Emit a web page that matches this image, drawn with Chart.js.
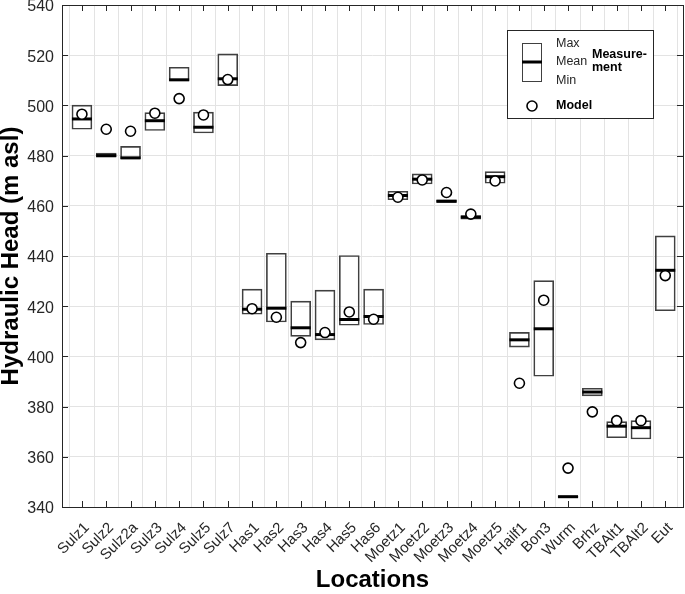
<!DOCTYPE html>
<html>
<head>
<meta charset="utf-8">
<script src="https://cdn.jsdelivr.net/npm/chart.js@4.4.1/dist/chart.umd.min.js"></script>
<style>
  html, body { margin: 0; padding: 0; background: #fff; }
  #wrap { width: 685px; height: 594px; position: relative; }
</style>
</head>
<body>
<div id="wrap"><canvas id="headChart"></canvas></div>
<script>
// DATA
const categories = ['Sulz1', 'Sulz2', 'Sulz2a', 'Sulz3', 'Sulz4', 'Sulz5', 'Sulz7',
    'Has1', 'Has2', 'Has3', 'Has4', 'Has5', 'Has6',
    'Moetz1', 'Moetz2', 'Moetz3', 'Moetz4', 'Moetz5',
    'Hailf1', 'Bon3', 'Wurm', 'Brhz', 'TBAlt1', 'TBAlt2', 'Eut'];
const measMin  = [490.5, 479.4, 478.7, 490.0, 509.8, 489.0, 507.9,
    416.8, 413.7, 408.0, 406.6, 412.4, 412.7,
    462.4, 468.7, 461.3, 454.7, 469.0,
    403.7, 392.1, 343.8, 384.3, 367.6, 367.1, 418.2];
const measMax  = [500.1, 481.0, 483.7, 497.1, 515.2, 497.3, 520.5,
    426.8, 441.1, 422.0, 426.4, 440.2, 426.8,
    465.8, 472.7, 462.4, 456.1, 473.6,
    409.6, 430.2, 344.5, 387.3, 374.0, 374.4, 448.0];
const measMean = [494.6, 480.0, 479.1, 493.9, 510.2, 491.3, 510.6,
    418.8, 419.2, 411.4, 408.7, 414.7, 415.9,
    464.1, 470.6, 461.8, 455.5, 471.6,
    406.6, 411.0, 344.1, 385.8, 372.2, 371.6, 434.3];
const modelHead = [496.5, 490.5, 489.7, 496.9, 502.7, 496.2, 510.3,
    419.0, 415.6, 405.5, 409.5, 417.7, 414.8,
    463.4, 470.3, 465.3, 456.7, 469.9,
    389.3, 422.4, 355.5, 377.9, 374.4, 374.4, 432.2];
const yTicks = [340, 360, 380, 400, 420, 440, 460, 480, 500, 520, 540];

const axisColor = '#262626';
const gridColor = '#e3e3e3';
Chart.defaults.font.family = "'Liberation Sans', Arial, sans-serif";
Chart.defaults.color = axisColor;

// frame round the plot + inward ticks (MATLAB style)
const framePlugin = {
    id: 'frame',
    afterDatasetsDraw(chart) {
        const { ctx, chartArea: a, scales } = chart;
        ctx.save();
        ctx.strokeStyle = axisColor;
        ctx.lineWidth = 1;
        ctx.beginPath();
        scales.x.ticks.forEach(t => {
            const x = Math.round(scales.x.getPixelForValue(t.value)) + 0.5;
            ctx.moveTo(x, a.bottom); ctx.lineTo(x, a.bottom - 6);
            ctx.moveTo(x, a.top); ctx.lineTo(x, a.top + 6);
        });
        scales.y.ticks.forEach(t => {
            const y = Math.round(scales.y.getPixelForValue(t.value)) + 0.5;
            ctx.moveTo(a.left, y); ctx.lineTo(a.left + 6, y);
            ctx.moveTo(a.right, y); ctx.lineTo(a.right - 6, y);
        });
        ctx.stroke();
        ctx.strokeRect(Math.round(a.left) + 0.5, Math.round(a.top) + 0.5,
            Math.round(a.right - a.left), Math.round(a.bottom - a.top));
        ctx.restore();
    }
};

// legend box (box symbol + circle)
const legendPlugin = {
    id: 'boxLegend',
    afterDraw(chart) {
        const { ctx, chartArea: a } = chart;
        const x0 = a.right - 176, y0 = 30, w = 146, h = 88;
        ctx.save();
        ctx.fillStyle = '#fff';
        ctx.fillRect(x0, y0, w, h);
        ctx.strokeStyle = axisColor;
        ctx.lineWidth = 1;
        ctx.strokeRect(x0 + 0.5, y0 + 0.5, w, h);
        // box symbol
        ctx.strokeStyle = '#404040';
        ctx.strokeRect(x0 + 15.5, y0 + 13.5, 19, 38);
        ctx.strokeStyle = '#000';
        ctx.lineWidth = 3;
        ctx.beginPath();
        ctx.moveTo(x0 + 15, y0 + 32); ctx.lineTo(x0 + 35, y0 + 32);
        ctx.stroke();
        // circle symbol
        ctx.lineWidth = 1.6;
        ctx.fillStyle = '#fff';
        ctx.beginPath();
        ctx.arc(x0 + 25, y0 + 76, 5, 0, Math.PI * 2);
        ctx.fill(); ctx.stroke();
        // texts
        ctx.fillStyle = axisColor;
        ctx.textBaseline = 'middle';
        ctx.font = "12.5px 'Liberation Sans', Arial, sans-serif";
        ctx.fillText('Max', x0 + 49, y0 + 14);
        ctx.fillText('Mean', x0 + 49, y0 + 32);
        ctx.fillText('Min', x0 + 49, y0 + 51);
        ctx.fillStyle = '#000';
        ctx.font = "bold 12.5px 'Liberation Sans', Arial, sans-serif";
        ctx.fillText('Measure-', x0 + 85, y0 + 25);
        ctx.fillText('ment', x0 + 85, y0 + 38);
        ctx.fillText('Model', x0 + 49, y0 + 76);
        ctx.restore();
    }
};

const xs = categories.map((c, i) => i + 1);

const ctx = document.getElementById('headChart').getContext('2d');
const headChart = new Chart(ctx, {
    type: 'bar',
    data: {
        datasets: [{
            type: 'bar',
            label: 'Measurement range',
            data: xs.map((x, i) => ({ x: x, y: [measMin[i], measMax[i]] })),
            backgroundColor: 'rgba(255,255,255,0)',
            borderColor: '#404040',
            borderWidth: 1,
            borderSkipped: false,
            barThickness: 20,
            order: 3
        }, {
            type: 'line',
            label: 'Measurement mean',
            data: xs.map((x, i) => ({ x: x, y: measMean[i] })),
            showLine: false,
            pointStyle: 'line',
            pointRadius: 10,
            pointHoverRadius: 10,
            borderColor: '#000',
            pointBorderWidth: 3,
            order: 2
        }, {
            type: 'line',
            label: 'Model',
            data: xs.map((x, i) => ({ x: x, y: modelHead[i] })),
            showLine: false,
            pointStyle: 'circle',
            pointRadius: 5,
            pointBackgroundColor: '#fff',
            pointBorderColor: '#000',
            pointBorderWidth: 1.6,
            order: 1
        }]
    },
    options: {
        responsive: false,
        animation: false,
        maintainAspectRatio: false,
        layout: { autoPadding: false, padding: { top: 5, right: 2, left: 0, bottom: 0 } },
        plugins: {
            legend: { display: false },
            tooltip: { enabled: false }
        },
        scales: {
            x: {
                type: 'linear',
                min: 0.18,
                max: 25.73,
                offset: false,
                afterBuildTicks: s => { s.ticks = xs.map(v => ({ value: v })); },
                afterFit: s => { s.height = 87; s.paddingLeft = 0; s.paddingRight = 0; },
                grid: { color: gridColor, drawTicks: false },
                border: { display: false },
                ticks: {
                    autoSkip: false,
                    maxRotation: 45,
                    minRotation: 45,
                    padding: 12,
                    labelOffset: 5,
                    font: { size: 15 },
                    callback: v => categories[v - 1]
                },
                title: {
                    display: true,
                    text: 'Locations',
                    color: '#000',
                    font: { size: 24, weight: 'bold', lineHeight: 1 },
                    padding: { top: 0, bottom: 2 }
                }
            },
            y: {
                min: 340,
                max: 540,
                afterBuildTicks: s => { s.ticks = yTicks.map(v => ({ value: v })); },
                afterFit: s => { s.width = 62; s.paddingTop = 0; s.paddingBottom = 0; },
                grid: { color: gridColor, drawTicks: false },
                border: { display: false },
                ticks: { padding: 8, labelOffset: 2, font: { size: 16 } },
                title: {
                    display: true,
                    text: 'Hydraulic Head (m asl)',
                    color: '#000',
                    font: { size: 24, weight: 'bold', lineHeight: 1 },
                    padding: { top: -1, bottom: 0 }
                }
            }
        }
    },
    plugins: [framePlugin, legendPlugin]
});
headChart.resize(685, 594);
</script>
</body>
</html>
